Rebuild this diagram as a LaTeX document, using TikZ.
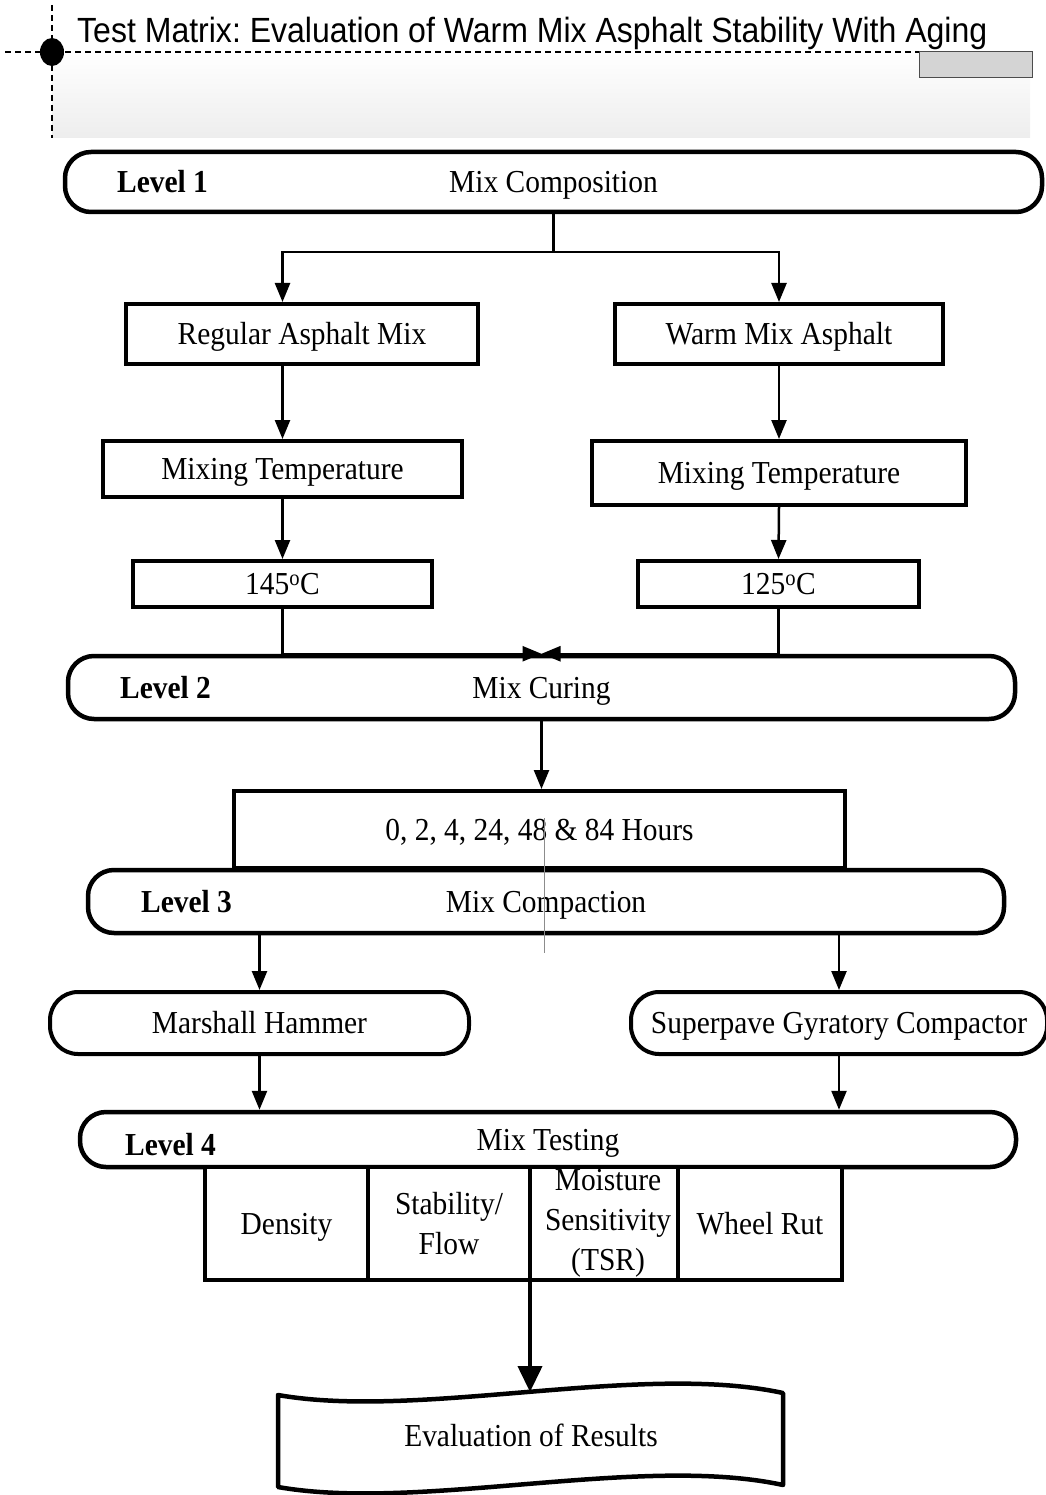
\documentclass[tikz,border=0pt]{standalone}
\usepackage{fontspec}
\setmainfont{Liberation Serif}[FakeStretch=0.92]
\newfontfamily\titlefont{Liberation Sans}[FakeStretch=0.915]
\usetikzlibrary{arrows.meta}
\frenchspacing
\tikzset{
  txt/.style={font=\fontsize{32}{40}\selectfont, inner sep=0pt},
  one/.style={text height=21pt, text depth=0pt},
  lvl/.style={txt, one, draw, line width=4.5pt, rounded corners=26pt, fill=white},
  rbox/.style={txt, draw, line width=4pt, fill=white},
  pill/.style={txt, one, draw, line width=4pt, rounded corners=28pt, fill=white},
  lbl/.style={txt, one, font=\fontsize{32}{40}\selectfont\bfseries, anchor=west},
  arr/.style={line width=2.5pt, -{Triangle[length=19pt,width=15pt]}},
  bigarr/.style={line width=4pt, -{Triangle[length=26pt,width=24pt]}},
  dashline/.style={line width=1.3pt, dash pattern=on 6pt off 4pt}
}
\begin{document}
\begin{tikzpicture}[x=1pt,y=-1pt]
\useasboundingbox (0,0) rectangle (1045,1495);
% header
\shade[top color=white, bottom color=black!7] (52,52) rectangle (1030,138);
\draw[dashline] (5,52) -- (1030,52);
\draw[dashline] (52,5) -- (52,138);
\fill (52,52) ellipse [x radius=12, y radius=14];
\draw[fill=black!17, draw=black!70, line width=1pt] (919,52) rectangle (1032,78);
\node[anchor=base west, inner sep=0pt, font=\titlefont\fontsize{35}{40}\selectfont] (title) at (77,43) {Test Matrix: Evaluation of Warm Mix Asphalt Stability With Aging};
% Level 1
\node[lvl, minimum width=977, minimum height=60] (l1) at (553.5,182) {Mix Composition};
\node[lbl] (l1lab) at (117,182) {Level 1};
\node[rbox, one, minimum width=352, minimum height=60] (ram) at (302,334) {Regular Asphalt Mix};
\node[rbox, one, minimum width=328, minimum height=60] (wma) at (779,334) {Warm Mix Asphalt};
\node[rbox, one, minimum width=359, minimum height=56] (mt1) at (282.5,469) {Mixing Temperature};
\node[rbox, one, minimum width=374, minimum height=64] (mt2) at (779,473) {Mixing Temperature};
\node[rbox, one, minimum width=299, minimum height=46] (t145) at (282.5,584) {145\textsuperscript{o}C};
\node[rbox, one, minimum width=281, minimum height=46] (t125) at (778.5,584) {125\textsuperscript{o}C};
\draw[arr] (l1.south) -- (l1.south |- 0,252) -| (ram.north -| mt1.north);
\draw[arr] (l1.south) -- (l1.south |- 0,252) -| (wma.north -| mt2.north);
\draw[arr] (ram.south -| mt1.north) -- (mt1.north);
\draw[arr] (wma.south -| mt2.north) -- (mt2.north);
\draw[arr] (mt1.south) -- (t145.north);
\draw[arr] (mt2.south) -- (t125.north);
% Level 2
\node[lvl, minimum width=947, minimum height=63] (l2) at (541.5,687.5) {Mix Curing};
\node[lbl] (l2lab) at (120,688) {Level 2};
\draw[arr] (t145.south) -- (t145.south |- l2.north) -- (l2.north);
\draw[arr] (t125.south) -- (t125.south |- l2.north) -- (l2.north);
% hours + Level 3
\node[rbox, one, minimum width=611, minimum height=77] (hrs) at (539.5,829.5) {0, 2, 4, 24, 48 \& 84 Hours};
\draw[arr] (l2.south) -- (l2.south |- hrs.north);
\node[lvl, minimum width=916, minimum height=63] (l3) at (546,901.5) {Mix Compaction};
\node[lbl] (l3lab) at (141,902) {Level 3};
\coordinate (gtop) at (544,818);
\coordinate (gbot) at (544,953);
\draw[black!45, line width=0.8pt] (gtop) -- (gbot);
% compaction
\node[pill, minimum width=419, minimum height=62] (mh) at (259.5,1023) {Marshall Hammer};
\node[pill, minimum width=416, minimum height=62] (sgc) at (839,1023) {Superpave Gyratory Compactor};
\draw[arr] (l3.south -| mh.north) -- (mh.north);
\draw[arr] (l3.south -| sgc.north) -- (sgc.north);
% Level 4
\node[lvl, minimum width=936, minimum height=55] (l4) at (548,1139.5) {Mix Testing};
\node[lbl] (l4lab) at (125,1145) {Level 4};
\draw[arr] (mh.south) -- (mh.south |- l4.north);
\draw[arr] (sgc.south) -- (sgc.south |- l4.north);
\node[rbox, one, minimum width=163, minimum height=113] (dens) at (286.5,1223.5) {Density};
\node[rbox, minimum width=162, minimum height=113, align=center] (stab) at (449,1223.5) {Stability/\\Flow};
\node[rbox, minimum width=148, minimum height=113] (moist) at (604,1223.5) {};
\node[txt, align=center] (moisttxt) at (608,1223) {Moisture\\Sensitivity\\(TSR)};
\node[rbox, one, minimum width=164, minimum height=113] (wheel) at (760,1223.5) {Wheel Rut};
% evaluation
\draw[line width=4.5pt, fill=white, line join=round]
  (278,1395) .. controls (420,1420) and (640,1362) .. (783,1393)
  -- (783,1485) .. controls (640,1454) and (420,1512) .. (278,1487) -- cycle;
\node[txt, one] (ev) at (531,1436) {Evaluation of Results};
\coordinate (evtop) at (530,1392);
\draw[bigarr] (moist.south west -| evtop) -- (evtop);
\end{tikzpicture}
\end{document}
